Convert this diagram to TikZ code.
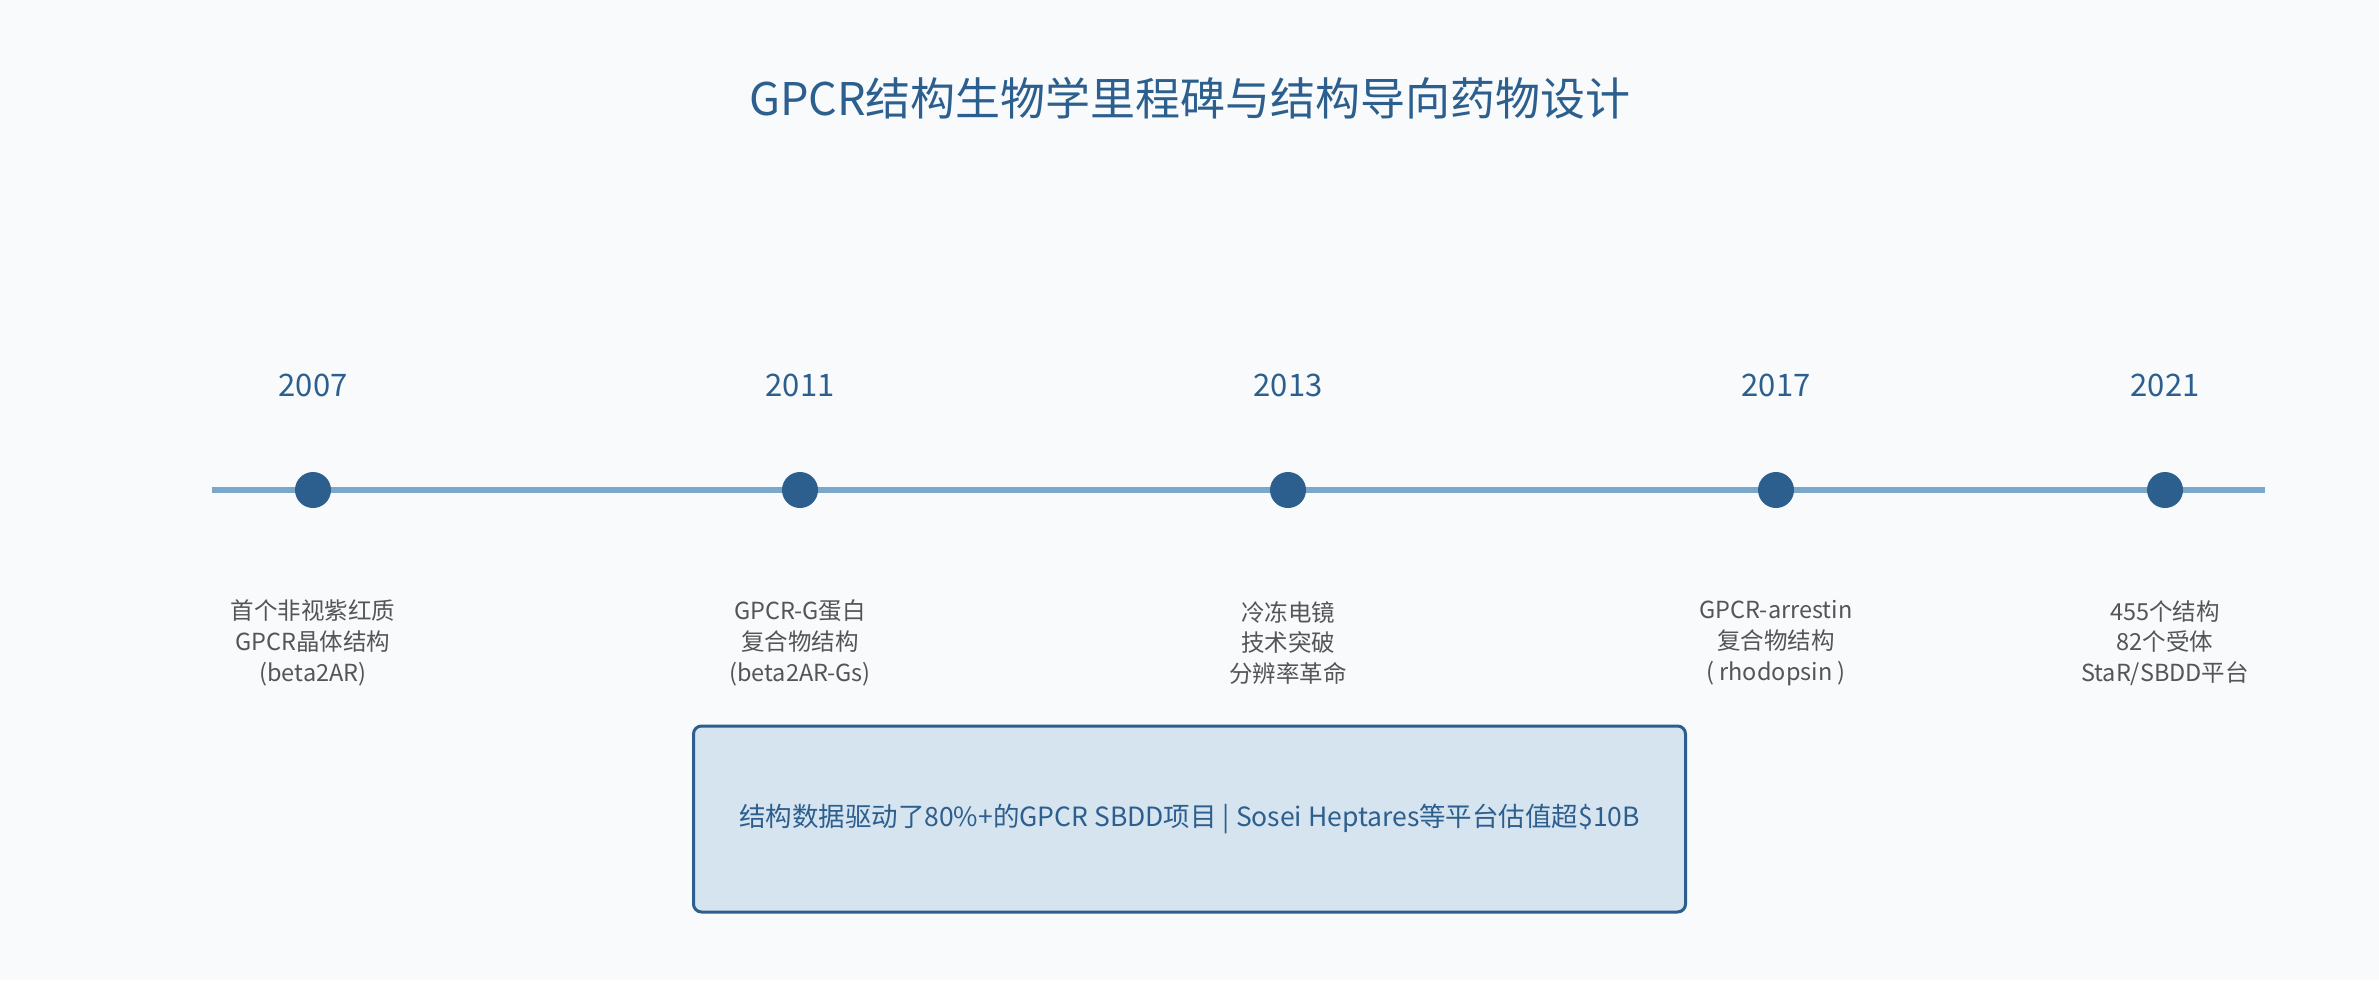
\documentclass[tikz,border=0pt]{standalone}
\usepackage{fontspec}
\setmainfont{Noto Sans CJK SC}
\definecolor{bg}{HTML}{F8FAFC}
\definecolor{dark}{HTML}{2C5F8E}
\definecolor{linec}{HTML}{7BA7CA}
\definecolor{txt}{HTML}{555555}
\definecolor{boxfill}{HTML}{D6E4F0}
\begin{document}
\begin{tikzpicture}[x=1pt,y=-1pt,
  titlestyle/.style={text=dark,font=\fontsize{45}{54}\selectfont,inner sep=0pt},
  yearstyle/.style={text=dark,font=\fontsize{31}{37}\selectfont,inner sep=0pt},
  descstyle/.style={text=txt,font=\fontsize{23.5}{30.7}\selectfont,align=center,inner sep=0pt},
  dotstyle/.style={circle,fill=dark,minimum size=36pt,inner sep=0pt},
  linestyle/.style={draw=linec,line width=6pt},
  notestyle/.style={draw=dark,line width=3pt,fill=boxfill,rounded corners=8pt,
    minimum width=992pt,minimum height=186pt,text=dark,
    font=\fontsize{26.5}{30}\selectfont,inner sep=0pt}]
\path[fill=bg] (0,0) rectangle (2379,980);
\node[titlestyle] (title) at (1190,98) {GPCR结构生物学里程碑与结构导向药物设计};
\coordinate (ls) at (212,490);
\coordinate (le) at (2265,490);
\draw[linestyle] (ls) -- (le);
\node[dotstyle] (d1) at (313,490) {};
\node[dotstyle] (d2) at (800,490) {};
\node[dotstyle] (d3) at (1288,490) {};
\node[dotstyle] (d4) at (1776,490) {};
\node[dotstyle] (d5) at (2165,490) {};
\node[yearstyle] (y1) at (313,385) {2007};
\node[yearstyle] (y2) at (800,385) {2011};
\node[yearstyle] (y3) at (1288,385) {2013};
\node[yearstyle] (y4) at (1776,385) {2017};
\node[yearstyle] (y5) at (2165,385) {2021};
\node[descstyle] (t1) at (313,643) {首个非视紫红质\\GPCR晶体结构\\(beta2AR)};
\node[descstyle] (t2) at (800,643) {GPCR-G蛋白\\复合物结构\\(beta2AR-Gs)};
\node[descstyle] (t3) at (1288,643) {冷冻电镜\\技术突破\\分辨率革命};
\node[descstyle] (t4) at (1776,643) {GPCR-arrestin\\复合物结构\\( rhodopsin )};
\node[descstyle] (t5) at (2165,643) {455个结构\\82个受体\\StaR/SBDD平台};
\node[notestyle] (note) at (1189.5,819) {结构数据驱动了80\%+的GPCR SBDD项目 | Sosei Heptares等平台估值超\$10B};
\end{tikzpicture}
\end{document}
